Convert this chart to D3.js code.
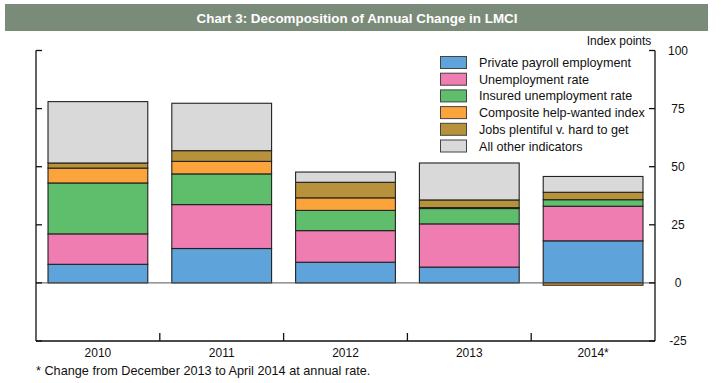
<!DOCTYPE html>
<html><head><meta charset="utf-8">
<script src="https://cdn.jsdelivr.net/npm/d3@7"></script>
<style>
body{margin:0;background:#fff;}
svg text{font-family:"Liberation Sans",Arial,sans-serif;fill:#111;}
</style></head>
<body><svg id="c" width="723" height="383"></svg>
<script>
const categories = ["2010","2011","2012","2013","2014*"];
const seriesNames = ["Private payroll employment","Unemployment rate","Insured unemployment rate","Composite help-wanted index","Jobs plentiful v. hard to get","All other indicators"];
const payroll    = [8.0, 14.8, 8.9, 6.8, 18.1];
const unemp      = [13.1, 18.9, 13.6, 18.6, 14.9];
const insured    = [21.9, 13.2, 8.7, 6.6, 2.8];
const helpWanted = [6.4, 5.4, 5.4, 0.4, -1.0];
const jobs       = [2.2, 4.6, 6.7, 3.3, 3.2];
const other      = [26.4, 20.4, 4.4, 15.9, 6.8];
const yTicks = [-25, 0, 25, 50, 75, 100];
const colors = ["#5ea3da","#ef7db1","#5fbe6b","#fba43c","#b8923a","#d9d9d9"];

const seriesValues = [payroll, unemp, insured, helpWanted, jobs, other];
const rows = categories.map((c,i)=>{const o={cat:c}; seriesNames.forEach((s,j)=>o[s]=seriesValues[j][i]); return o;});

const svg = d3.select("#c");
const L=36, R=655, T=50.5, B=341;
const x = d3.scaleBand().domain(categories).range([L,R]).paddingInner(0.194).paddingOuter(0.097);
const y = d3.scaleLinear().domain([-25,100]).range([B,T]);

// title bar
svg.append("rect").attr("x",5).attr("y",4).attr("width",703).attr("height",27).attr("fill","#7b8b79");
svg.append("text").attr("x",357).attr("y",22.5).attr("text-anchor","middle")
  .style("font-family","'Liberation Sans Narrow','Arial Narrow','Liberation Sans',sans-serif")
  .style("font-weight","bold").style("font-size","13.4px").style("fill","#fff")
  .text("Chart 3: Decomposition of Annual Change in LMCI");

// bars
const stacked = d3.stack().keys(seriesNames).offset(d3.stackOffsetDiverging)(rows);
const g = svg.append("g");
stacked.forEach((s,j)=>{
  g.selectAll(null).data(s).join("rect")
    .attr("x",d=>x(d.data.cat)).attr("width",x.bandwidth())
    .attr("y",d=>y(Math.max(d[0],d[1]))).attr("height",d=>Math.abs(y(d[0])-y(d[1])))
    .attr("fill",colors[j]).attr("stroke","#222").attr("stroke-width",1.1);
});

// zero line
svg.append("line").attr("x1",L).attr("x2",R).attr("y1",y(0)).attr("y2",y(0)).attr("stroke","#555").attr("stroke-width",1);

// axes
const axisColor="#111";
svg.append("line").attr("x1",L).attr("x2",L).attr("y1",T).attr("y2",B).attr("stroke",axisColor).attr("stroke-width",1.3);
svg.append("line").attr("x1",R).attr("x2",R).attr("y1",T).attr("y2",B).attr("stroke",axisColor).attr("stroke-width",1.3);
svg.append("line").attr("x1",L).attr("x2",R).attr("y1",B).attr("y2",B).attr("stroke",axisColor).attr("stroke-width",1.3);
yTicks.forEach(t=>{
  svg.append("line").attr("x1",L).attr("x2",L+6).attr("y1",y(t)).attr("y2",y(t)).attr("stroke",axisColor).attr("stroke-width",1.3);
  svg.append("line").attr("x1",R-6).attr("x2",R).attr("y1",y(t)).attr("y2",y(t)).attr("stroke",axisColor).attr("stroke-width",1.3);
  svg.append("text").attr("x",678).attr("y",y(t)+4).attr("text-anchor","middle").style("font-size","12px").text(t);
});
// category separators
categories.slice(1).forEach(c=>{
  const xx = x(c) - x.step()*x.paddingInner()/2;
  svg.append("line").attr("x1",xx).attr("x2",xx).attr("y1",B).attr("y2",B-8).attr("stroke",axisColor).attr("stroke-width",1.3);
});
categories.forEach(c=>{
  svg.append("text").attr("x",x(c)+x.bandwidth()/2).attr("y",357).attr("text-anchor","middle").style("font-size","12px").text(c);
});

svg.append("text").attr("x",619).attr("y",45).attr("text-anchor","middle").style("font-size","12px").text("Index points");

// legend
seriesNames.forEach((s,j)=>{
  const yy = 56 + j*16.7;
  svg.append("rect").attr("x",440.5).attr("y",yy+0.5).attr("width",26).attr("height",12).attr("fill",colors[j]).attr("stroke","#444").attr("stroke-width",1);
  svg.append("text").attr("x",479).attr("y",yy+11).style("font-size","12.6px").text(s);
});

svg.append("text").attr("x",36).attr("y",375).style("font-size","12.7px").text("* Change from December 2013 to April 2014 at annual rate.");
</script></body></html>
